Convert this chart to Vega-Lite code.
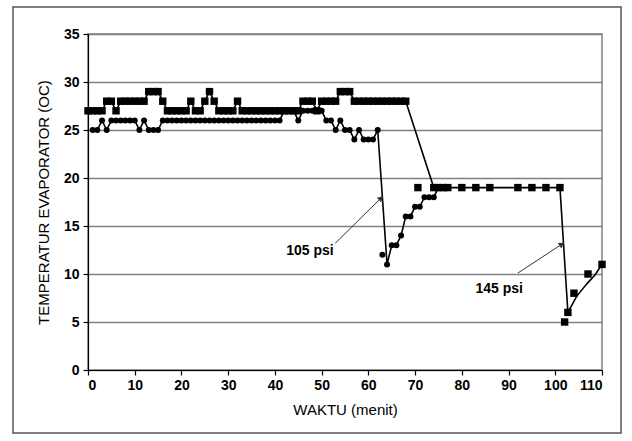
{
  "$schema": "https://vega.github.io/schema/vega-lite/v6.json",
  "width": 514,
  "height": 336,
  "autosize": {"type": "none"},
  "padding": {"left": 88, "top": 34, "right": 30, "bottom": 71},
  "background": "white",
  "config": {
    "font": "Liberation Sans",
    "view": {"stroke": "#808080", "strokeWidth": 1.5}
  },
  "datasets": {
    "main": [
      {"s":"sq","m":"b","t":0,"v":27},{"s":"sq","m":"b","t":1,"v":27},{"s":"sq","m":"b","t":2,"v":27},{"s":"sq","m":"b","t":3,"v":27},
      {"s":"sq","m":"b","t":4,"v":28},{"s":"sq","m":"b","t":5,"v":28},{"s":"sq","m":"b","t":6,"v":27},{"s":"sq","m":"b","t":7,"v":28},
      {"s":"sq","m":"b","t":8,"v":28},{"s":"sq","m":"b","t":9,"v":28},{"s":"sq","m":"b","t":10,"v":28},{"s":"sq","m":"b","t":11,"v":28},
      {"s":"sq","m":"b","t":12,"v":28},{"s":"sq","m":"b","t":13,"v":29},{"s":"sq","m":"b","t":14,"v":29},{"s":"sq","m":"b","t":15,"v":29},
      {"s":"sq","m":"b","t":16,"v":28},{"s":"sq","m":"b","t":17,"v":27},{"s":"sq","m":"b","t":18,"v":27},{"s":"sq","m":"b","t":19,"v":27},
      {"s":"sq","m":"b","t":20,"v":27},{"s":"sq","m":"b","t":21,"v":27},{"s":"sq","m":"b","t":22,"v":28},{"s":"sq","m":"b","t":23,"v":27},
      {"s":"sq","m":"b","t":24,"v":27},{"s":"sq","m":"b","t":25,"v":28},{"s":"sq","m":"b","t":26,"v":29},{"s":"sq","m":"b","t":27,"v":28},
      {"s":"sq","m":"b","t":28,"v":27},{"s":"sq","m":"b","t":29,"v":27},{"s":"sq","m":"b","t":30,"v":27},{"s":"sq","m":"b","t":31,"v":27},
      {"s":"sq","m":"b","t":32,"v":28},{"s":"sq","m":"b","t":33,"v":27},{"s":"sq","m":"b","t":34,"v":27},{"s":"sq","m":"b","t":35,"v":27},
      {"s":"sq","m":"b","t":36,"v":27},{"s":"sq","m":"b","t":37,"v":27},{"s":"sq","m":"b","t":38,"v":27},{"s":"sq","m":"b","t":39,"v":27},
      {"s":"sq","m":"b","t":40,"v":27},{"s":"sq","m":"b","t":41,"v":27},{"s":"sq","m":"b","t":42,"v":27},{"s":"sq","m":"b","t":43,"v":27},
      {"s":"sq","m":"b","t":44,"v":27},{"s":"sq","m":"b","t":45,"v":27},{"s":"sq","m":"b","t":46,"v":28},{"s":"sq","m":"b","t":47,"v":28},
      {"s":"sq","m":"b","t":48,"v":28},{"s":"sq","m":"b","t":49,"v":27},{"s":"sq","m":"b","t":50,"v":28},{"s":"sq","m":"b","t":51,"v":28},
      {"s":"sq","m":"b","t":52,"v":28},{"s":"sq","m":"b","t":53,"v":28},{"s":"sq","m":"b","t":54,"v":29},{"s":"sq","m":"b","t":55,"v":29},
      {"s":"sq","m":"b","t":56,"v":29},{"s":"sq","m":"b","t":57,"v":28},{"s":"sq","m":"b","t":58,"v":28},{"s":"sq","m":"b","t":59,"v":28},
      {"s":"sq","m":"b","t":60,"v":28},{"s":"sq","m":"b","t":61,"v":28},{"s":"sq","m":"b","t":62,"v":28},{"s":"sq","m":"b","t":63,"v":28},
      {"s":"sq","m":"b","t":64,"v":28},{"s":"sq","m":"b","t":65,"v":28},{"s":"sq","m":"b","t":66,"v":28},{"s":"sq","m":"b","t":67,"v":28},
      {"s":"sq","m":"b","t":68,"v":28},
      {"s":"sq","m":"p","t":70.6,"v":19},
      {"s":"sq","m":"b","t":74,"v":19},{"s":"sq","m":"b","t":75,"v":19},{"s":"sq","m":"b","t":76,"v":19},{"s":"sq","m":"b","t":77,"v":19},
      {"s":"sq","m":"b","t":80,"v":19},{"s":"sq","m":"b","t":83,"v":19},{"s":"sq","m":"b","t":86,"v":19},{"s":"sq","m":"b","t":92,"v":19},
      {"s":"sq","m":"b","t":95,"v":19},{"s":"sq","m":"b","t":98,"v":19},{"s":"sq","m":"b","t":101,"v":19},
      {"s":"sq","m":"p","t":102,"v":5},
      {"s":"sq","m":"b","t":102.7,"v":6},
      {"s":"sq","m":"p","t":104,"v":8},
      {"s":"sq","m":"l","t":104.6,"v":7.7},
      {"s":"sq","m":"l","t":106.8,"v":9.0},
      {"s":"sq","m":"p","t":107,"v":10},
      {"s":"sq","m":"l","t":108.5,"v":9.9},
      {"s":"sq","m":"b","t":110,"v":11},

      {"s":"ci","m":"b","t":1,"v":25},{"s":"ci","m":"b","t":2,"v":25},{"s":"ci","m":"b","t":3,"v":26},{"s":"ci","m":"b","t":4,"v":25},
      {"s":"ci","m":"b","t":5,"v":26},{"s":"ci","m":"b","t":6,"v":26},{"s":"ci","m":"b","t":7,"v":26},{"s":"ci","m":"b","t":8,"v":26},
      {"s":"ci","m":"b","t":9,"v":26},{"s":"ci","m":"b","t":10,"v":26},{"s":"ci","m":"b","t":11,"v":25},{"s":"ci","m":"b","t":12,"v":26},
      {"s":"ci","m":"b","t":13,"v":25},{"s":"ci","m":"b","t":14,"v":25},{"s":"ci","m":"b","t":15,"v":25},{"s":"ci","m":"b","t":16,"v":26},
      {"s":"ci","m":"b","t":17,"v":26},{"s":"ci","m":"b","t":18,"v":26},{"s":"ci","m":"b","t":19,"v":26},{"s":"ci","m":"b","t":20,"v":26},
      {"s":"ci","m":"b","t":21,"v":26},{"s":"ci","m":"b","t":22,"v":26},{"s":"ci","m":"b","t":23,"v":26},{"s":"ci","m":"b","t":24,"v":26},
      {"s":"ci","m":"b","t":25,"v":26},{"s":"ci","m":"b","t":26,"v":26},{"s":"ci","m":"b","t":27,"v":26},{"s":"ci","m":"b","t":28,"v":26},
      {"s":"ci","m":"b","t":29,"v":26},{"s":"ci","m":"b","t":30,"v":26},{"s":"ci","m":"b","t":31,"v":26},{"s":"ci","m":"b","t":32,"v":26},
      {"s":"ci","m":"b","t":33,"v":26},{"s":"ci","m":"b","t":34,"v":26},{"s":"ci","m":"b","t":35,"v":26},{"s":"ci","m":"b","t":36,"v":26},
      {"s":"ci","m":"b","t":37,"v":26},{"s":"ci","m":"b","t":38,"v":26},{"s":"ci","m":"b","t":39,"v":26},{"s":"ci","m":"b","t":40,"v":26},
      {"s":"ci","m":"b","t":41,"v":26},{"s":"ci","m":"b","t":42,"v":27},{"s":"ci","m":"b","t":43,"v":27},{"s":"ci","m":"b","t":44,"v":27},
      {"s":"ci","m":"b","t":45,"v":26},{"s":"ci","m":"b","t":46,"v":27},{"s":"ci","m":"b","t":47,"v":27},{"s":"ci","m":"b","t":48,"v":27},
      {"s":"ci","m":"b","t":49,"v":27},{"s":"ci","m":"b","t":50,"v":27},{"s":"ci","m":"b","t":51,"v":26},{"s":"ci","m":"b","t":52,"v":26},
      {"s":"ci","m":"b","t":53,"v":25},{"s":"ci","m":"b","t":54,"v":26},{"s":"ci","m":"b","t":55,"v":25},{"s":"ci","m":"b","t":56,"v":25},
      {"s":"ci","m":"b","t":57,"v":24},{"s":"ci","m":"b","t":58,"v":25},{"s":"ci","m":"b","t":59,"v":24},{"s":"ci","m":"b","t":60,"v":24},
      {"s":"ci","m":"b","t":61,"v":24},{"s":"ci","m":"b","t":62,"v":25},
      {"s":"ci","m":"p","t":63,"v":12},
      {"s":"ci","m":"b","t":64,"v":11},{"s":"ci","m":"b","t":65,"v":13},{"s":"ci","m":"b","t":66,"v":13},{"s":"ci","m":"b","t":67,"v":14},
      {"s":"ci","m":"b","t":68,"v":16},{"s":"ci","m":"b","t":69,"v":16},{"s":"ci","m":"b","t":70,"v":17},{"s":"ci","m":"b","t":71,"v":17},
      {"s":"ci","m":"b","t":72,"v":18},{"s":"ci","m":"b","t":73,"v":18},{"s":"ci","m":"b","t":74,"v":18},{"s":"ci","m":"b","t":75,"v":19},
      {"s":"ci","m":"b","t":76,"v":19}
    ],
    "arrows": [
      {"a":"105","t":52.9,"v":13.2},{"a":"105","t":62.7,"v":17.9},
      {"a":"145","t":92.0,"v":10.1},{"a":"145","t":101.4,"v":13.1}
    ],
    "labels": [
      {"txt":"105 psi","t":47.5,"v":12.4},
      {"txt":"145 psi","t":88,"v":8.4}
    ],
    "frame": [{"x1":-16.05,"x2":114.07,"y1":37.81,"y2":-6.56}]
  },
  "layer": [
    {
      "data": {"name": "frame"},
      "mark": {"type": "rect", "fill": null, "fillOpacity": 0, "stroke": "#555555", "strokeWidth": 1.5, "clip": false},
      "encoding": {
        "x": {"field": "x1", "type": "quantitative", "scale": {"domain": [0, 110], "nice": false, "zero": false},
              "axis": {"values": [0,10,20,30,40,50,60,70,80,90,100,110], "title": "WAKTU (menit)", "grid": false,
                       "domainColor": "black", "domainWidth": 1.2, "tickColor": "black", "tickSize": 5, "tickWidth": 1.2,
                       "labelFont": "Liberation Sans", "labelFontSize": 14, "labelFontWeight": "bold", "labelColor": "black", "labelPadding": 3,
                       "titleFont": "Liberation Sans", "titleFontSize": 15, "titleFontWeight": "normal", "titleColor": "black", "titlePadding": 10}},
        "x2": {"field": "x2"},
        "y": {"field": "y1", "type": "quantitative", "scale": {"domain": [0, 35], "nice": false, "zero": false},
              "axis": {"values": [0,5,10,15,20,25,30,35], "title": "TEMPERATUR EVAPORATOR (OC)", "grid": true,
                       "gridColor": "#808080", "gridWidth": 1.3, "gridOpacity": 1,
                       "domainColor": "black", "domainWidth": 1.2, "tickColor": "black", "tickSize": 5, "tickWidth": 1.2,
                       "labelFont": "Liberation Sans", "labelFontSize": 14, "labelFontWeight": "bold", "labelColor": "black", "labelPadding": 4,
                       "titleFont": "Liberation Sans", "titleFontSize": 15, "titleFontWeight": "normal", "titleColor": "black", "titlePadding": 12}},
        "y2": {"field": "y2"}
      }
    },
    {
      "data": {"name": "main"},
      "transform": [{"filter": "datum.m !== 'p'"}],
      "mark": {"type": "line", "color": "black", "strokeWidth": 1.6},
      "encoding": {
        "x": {"field": "t", "type": "quantitative"},
        "y": {"field": "v", "type": "quantitative"},
        "detail": {"field": "s"}
      }
    },
    {
      "data": {"name": "main"},
      "transform": [{"filter": "datum.m !== 'l'"}],
      "mark": {"type": "point", "filled": true, "color": "black", "opacity": 1},
      "encoding": {
        "x": {"field": "t", "type": "quantitative"},
        "y": {"field": "v", "type": "quantitative"},
        "shape": {"field": "s", "type": "nominal", "scale": {"domain": ["sq", "ci"], "range": ["square", "circle"]}, "legend": null},
        "size": {"field": "s", "type": "nominal", "scale": {"domain": ["sq", "ci"], "range": [55, 36]}, "legend": null}
      }
    },
    {
      "data": {"name": "arrows"},
      "mark": {"type": "line", "color": "#333333", "strokeWidth": 1},
      "encoding": {
        "x": {"field": "t", "type": "quantitative"},
        "y": {"field": "v", "type": "quantitative"},
        "detail": {"field": "a"}
      }
    },
    {
      "data": {"name": "arrows"},
      "transform": [{"filter": "datum.a === '105' && datum.t > 60"}],
      "mark": {"type": "point", "shape": "triangle-up", "filled": true, "color": "#333333", "size": 40, "angle": 47, "opacity": 1},
      "encoding": {
        "x": {"field": "t", "type": "quantitative"},
        "y": {"field": "v", "type": "quantitative"}
      }
    },
    {
      "data": {"name": "arrows"},
      "transform": [{"filter": "datum.a === '145' && datum.t > 100"}],
      "mark": {"type": "point", "shape": "triangle-up", "filled": true, "color": "#333333", "size": 40, "angle": 57, "opacity": 1},
      "encoding": {
        "x": {"field": "t", "type": "quantitative"},
        "y": {"field": "v", "type": "quantitative"}
      }
    },
    {
      "data": {"name": "labels"},
      "mark": {"type": "text", "font": "Liberation Sans", "fontSize": 14, "fontWeight": "bold", "color": "black", "align": "center", "baseline": "middle"},
      "encoding": {
        "x": {"field": "t", "type": "quantitative"},
        "y": {"field": "v", "type": "quantitative"},
        "text": {"field": "txt"}
      }
    }
  ]
}
